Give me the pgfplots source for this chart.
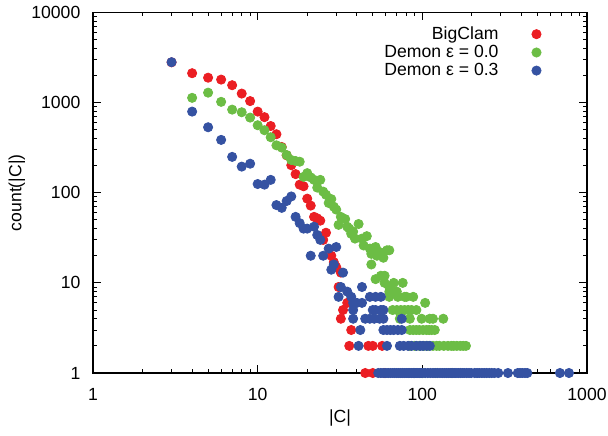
\documentclass[border=0pt]{standalone}
\usepackage{pgfplots}
\pgfplotsset{compat=1.18}
\usepackage{fontspec}
\setmainfont{Liberation Sans}

\definecolor{bcred}{RGB}{235,30,35}
\definecolor{dmgreen}{RGB}{108,189,69}
\definecolor{dmblue}{RGB}{53,82,162}

\newcommand{\gfont}{\fontsize{8.8}{10}\selectfont}
% mark sits well to the right of the key text, as in gnuplot
\pgfplotsset{keydot/.style={only marks, mark=*, mark size=2.3pt,
  legend image code/.code={\path (0pt,0pt); \draw[##1] plot coordinates {(16.8pt,0pt)};}}}

\begin{document}
\begin{tikzpicture}
\begin{axis}[
  xmode=log, ymode=log,
  scale only axis, width=247pt, height=180.25pt,
  xmin=1, xmax=1000, ymin=1, ymax=10000,
  xtick={1,10,100,1000}, xticklabels={1,10,100,1000},
  ytick={1,10,100,1000,10000}, yticklabels={1,10,100,1000,10000},
  minor xtick={2,3,4,5,6,7,8,9,20,30,40,50,60,70,80,90,200,300,400,500,600,700,800,900},
  minor ytick={2,3,4,5,6,7,8,9,20,30,40,50,60,70,80,90,200,300,400,500,600,700,800,900,2000,3000,4000,5000,6000,7000,8000,9000},
  tick align=inside, major tick length=4pt, minor tick length=2pt,
  axis line style={line width=0.9pt},
  every tick/.style={black, line width=0.5pt},
  tick label style={font=\gfont},
  xticklabel style={yshift=-4pt},
  yticklabel style={xshift=-2.8pt},
  label style={font=\gfont},
  xlabel={|C|}, ylabel={count(|C|)},
  xlabel style={at={(axis description cs:0.5,-0.125)}, anchor=center},
  ylabel style={at={(axis description cs:-0.154,0.5)}, anchor=center},
  clip=false, axis on top,
  legend plot pos=right,
  legend style={draw=none, fill=none, font=\gfont, legend cell align=right,
    at={(axis description cs:0.92,0.985)}, anchor=north east,
    row sep=-2.6pt},
]
\addplot[keydot, color=bcred] coordinates {
(3,2800)(4,2120)(5,1890)(6,1800)(7,1560)(8,1260)(9,1040)(10,795)(11,690)
(12,550)(13,446)(14,322)(15,260)(16,202)(17,161)(18,123)(19,118)(20,86)
(21,72)(22,54)(23,52)(24,49)(25,30)(26,36)(28,20)(29,17)(30,15)(31,9)
(32,13)(32,4)(33,5)(35,6)(36,2)(37,3)(45,1)(47,2)(50,1)(50,2)(57,2)(59,1)
};
\addlegendentry{BigClam}
\addplot[keydot, color=dmgreen] coordinates {
(4,1130)(5,1290)(6,1020)(7,836)(8,782)(9,682)(10,561)(11,494)(12,413)
(13,336)(14,317)(15,262)(16,231)(17,225)(18,221)(19,150)(20,165)(21,148)
(22,139)(23,114)(24,139)(25,103)(26,95)(27,77)(28,85)(29,70)(30,65)
(31,44)(32,54)(34,51)(35,42)(36,40)(37,35)(38,37)(39,31)(41,45)(43,31)
(44,26)(46,33)(48,24)(49,16)(49,21)(50,24)(52,25)(53,20)(55,22)(56,21)
(58,19)(61,23)(63,23)(52,11)(56,12)(59,12)(59,10)(63,9)(67,10)(76,10)
(63,8)(68,8)(70,8)(63,7)(71,7)(78,7)(80,7)(88,7)(104,6)
(66,5)(70,5)(74,5)(78,5)(82,5)(86,5)(92,5)
(73,4)(84,4)(99,4)(111,4)(116,4)(134,4)
(84,3)(88,3)(92,3)(96,3)(101,3)(106,3)(110,3)(114,3)(119,3)
(84,2)(90,2)(96,2)(102,2)(108,2)(116,2)(122,2)(127,2)(135,2)(143,2)
(150,2)(155,2)(162,2)(170,2)(177,2)(184,2)
(90,1)(100,1)(120,1)(150,1)
};
\addlegendentry{Demon ε = 0.0}
\addplot[keydot, color=dmblue] coordinates {
(3,2810)(4,795)(5,533)(6,386)(7,250)(8,195)(9,210)(10,125)(11,123)
(12,139)(13,73)(14,68)(15,81)(16,91)(17,54)(18,46)(19,40)(20,40)(21,20)
(22,42)(23,34)(24,30)(25,20)(27,24)(28,14)(29,16)(30,25)(33,13)
(32,9)(43,9)(35,8)
(31,7)(37,7)(48,7)(52,7)(56,7)
(38,6)(40,6)(43,6)
(38,5)(50,5)(52,5)(56,5)(58,5)
(38,4)(45,4)(48,4)(51,4)(55,4)(58,4)(75,4)
(42,3)(58,3)(61,3)(64,3)(67,3)(71,3)(75,3)
(41,2)(61,2)(73,2)(77,2)(82,2)(86,2)(92,2)(97,2)(101,2)(106,2)(111,2)
(54,1)(56,1)(58,1)(60,1)(62,1)(64,1)(66,1)(68,1)(70,1)(72,1)(74,1)(76,1)
(78,1)(80,1)(82,1)(84,1)(86,1)(88,1)(90,1)(92,1)(94,1)(96,1)(98,1)(100,1)
(104,1)(108,1)(112,1)(116,1)(120,1)(124,1)(128,1)(132,1)(136,1)(140,1)
(144,1)(148,1)(152,1)(156,1)(160,1)(165,1)(170,1)(175,1)(180,1)(186,1)
(192,1)(198,1)(208,1)(215,1)(222,1)(230,1)(238,1)(246,1)(255,1)(264,1)
(274,1)(289,1)(331,1)(380,1)(392,1)(405,1)(420,1)(434,1)(685,1)(777,1)
};
\addlegendentry{Demon ε = 0.3}
\end{axis}
\pgfresetboundingbox
\path[use as bounding box] ([shift={(-46.5pt,-31pt)}]current axis.south west)
  rectangle ([shift={(10.5pt,6.25pt)}]current axis.north east);
\end{tikzpicture}
\end{document}
